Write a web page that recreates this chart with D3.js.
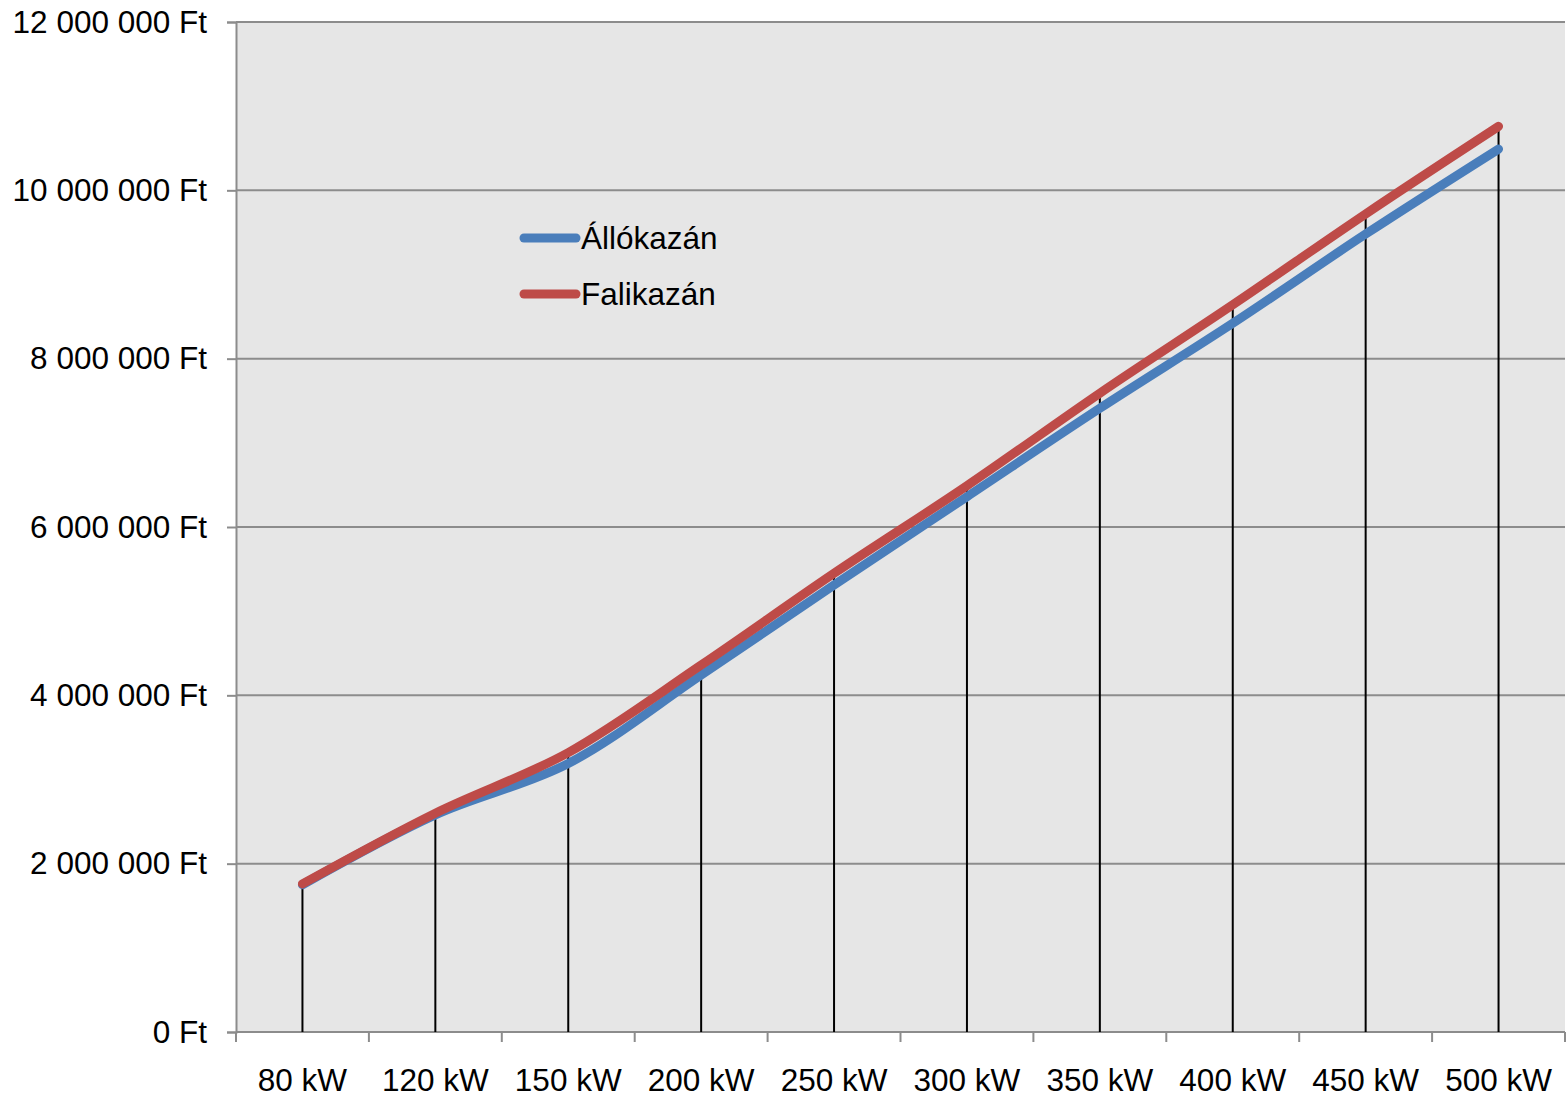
<!DOCTYPE html>
<html>
<head>
<meta charset="utf-8">
<script src="https://cdn.jsdelivr.net/npm/d3@7"></script>
<style>
  html, body { margin: 0; padding: 0; background: #ffffff; }
  svg { display: block; }
</style>
</head>
<body>
<svg id="chart" width="1566" height="1097"></svg>
<script>
// Boiler output categories
const categories = ["80 kW", "120 kW", "150 kW", "200 kW", "250 kW", "300 kW", "350 kW", "400 kW", "450 kW", "500 kW"];
// Total cost per boiler type (Ft)
const allokazan = [1750000, 2580000, 3190000, 4240000, 5310000, 6360000, 7410000, 8420000, 9480000, 10490000];
const falikazan = [1760000, 2600000, 3320000, 4360000, 5450000, 6490000, 7590000, 8640000, 9720000, 10760000];
// Value axis ticks
const yTicks = [0, 2000000, 4000000, 6000000, 8000000, 10000000, 12000000];
const seriesNames = ["Állókazán", "Falikazán"];
const seriesColors = ["#4A7EBB", "#BE4B48"];

const svg = d3.select("#chart");
const plotLeft = 236, plotRight = 1565, plotTop = 22, plotBottom = 1032;
const font = "'Liberation Sans', Arial, sans-serif";
const fontSize = 31.5;

const x = d3.scaleBand().domain(categories).range([plotLeft, plotRight]);
const y = d3.scaleLinear().domain([0, 12000000]).range([plotBottom, plotTop]);

const fmt = v => d3.format(",")(v).replace(/,/g, " ") + " Ft";

// Plot area background
svg.append("rect")
  .attr("x", plotLeft).attr("y", plotTop)
  .attr("width", plotRight - plotLeft).attr("height", plotBottom - plotTop)
  .attr("fill", "#E6E6E6");

// Horizontal gridlines
svg.append("g").selectAll("line").data(yTicks.slice(1)).join("line")
  .attr("x1", plotLeft).attr("x2", plotRight)
  .attr("y1", d => y(d)).attr("y2", d => y(d))
  .attr("stroke", "#8C8C8C").attr("stroke-width", 2);

// Value axis
const yAxis = svg.append("g")
  .attr("transform", `translate(${plotLeft},0)`)
  .call(d3.axisLeft(y).tickValues(yTicks).tickSize(9).tickPadding(20).tickFormat(fmt));
yAxis.selectAll("path, line").attr("stroke", "#8C8C8C").attr("stroke-width", 2);
yAxis.selectAll("text")
  .attr("font-family", font).attr("font-size", fontSize).attr("fill", "#000");

// Category axis: ticks sit between categories
const xAxisG = svg.append("g");
xAxisG.append("line")
  .attr("x1", plotLeft).attr("x2", plotRight).attr("y1", plotBottom).attr("y2", plotBottom)
  .attr("stroke", "#8C8C8C").attr("stroke-width", 2);
const boundaries = categories.map(c => x(c)).concat([x(categories[categories.length - 1]) + x.bandwidth()]);
xAxisG.selectAll("line.tick").data(boundaries).join("line")
  .attr("class", "tick")
  .attr("x1", d => d).attr("x2", d => d)
  .attr("y1", plotBottom).attr("y2", plotBottom + 10)
  .attr("stroke", "#8C8C8C").attr("stroke-width", 2);
xAxisG.selectAll("text").data(categories).join("text")
  .attr("x", d => x(d) + x.bandwidth() / 2)
  .attr("y", 1091)
  .attr("text-anchor", "middle")
  .attr("font-family", font).attr("font-size", fontSize).attr("fill", "#000")
  .text(d => d);

// Drop lines from the higher series down to the axis
svg.append("g").selectAll("line").data(categories).join("line")
  .attr("x1", d => x(d) + x.bandwidth() / 2)
  .attr("x2", d => x(d) + x.bandwidth() / 2)
  .attr("y1", (d, i) => y(Math.max(allokazan[i], falikazan[i])))
  .attr("y2", plotBottom)
  .attr("stroke", "#000").attr("stroke-width", 2);

// Smoothed series lines
const line = d3.line()
  .x((d, i) => x(categories[i]) + x.bandwidth() / 2)
  .y(d => y(d))
  .curve(d3.curveCatmullRom.alpha(0.5));

[allokazan, falikazan].forEach((vals, k) => {
  svg.append("path")
    .datum(vals)
    .attr("d", line)
    .attr("fill", "none")
    .attr("stroke", seriesColors[k])
    .attr("stroke-width", 9)
    .attr("stroke-linecap", "round")
    .attr("stroke-linejoin", "round");
});

// Legend
const legend = svg.append("g");
seriesNames.forEach((name, k) => {
  const ly = 238 + k * 56;
  legend.append("line")
    .attr("x1", 524).attr("x2", 576).attr("y1", ly).attr("y2", ly)
    .attr("stroke", seriesColors[k]).attr("stroke-width", 9)
    .attr("stroke-linecap", "round");
  legend.append("text")
    .attr("x", 581).attr("y", ly + 11)
    .attr("font-family", font).attr("font-size", fontSize).attr("fill", "#000")
    .text(name);
});
</script>
</body>
</html>
